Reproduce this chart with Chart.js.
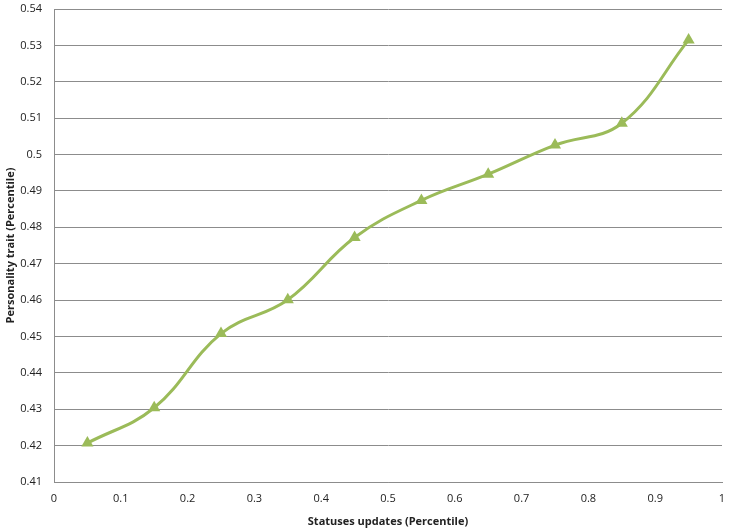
<!DOCTYPE html>
<html>
<head>
<meta charset="utf-8">
<script src="https://cdn.jsdelivr.net/npm/chart.js@4.4.0/dist/chart.umd.min.js"></script>
<style>
  html, body { margin: 0; padding: 0; background: #fff; }
  #wrap { width: 729px; height: 532px; }
</style>
</head>
<body>
<div id="wrap"><canvas id="myChart" width="729" height="532"></canvas></div>
<script>
// data
const xValues = [0.05, 0.15, 0.25, 0.35, 0.45, 0.55, 0.65, 0.75, 0.85, 0.95];
const traitValues = [0.4207, 0.4304, 0.4508, 0.4601, 0.4772, 0.4874, 0.4946, 0.5026, 0.5086, 0.5315];
const xTicks = [0, 0.1, 0.2, 0.3, 0.4, 0.5, 0.6, 0.7, 0.8, 0.9, 1];
const yTicks = [0.41, 0.42, 0.43, 0.44, 0.45, 0.46, 0.47, 0.48, 0.49, 0.5, 0.51, 0.52, 0.53, 0.54];

let points = xValues.map((x, i) => ({ x: x, y: traitValues[i] }));

let ctx = document.getElementById('myChart').getContext('2d');

new Chart(ctx, {
    type: 'line',
    data: {
        datasets: [{
            data: points,
            borderColor: '#9bbb59',
            backgroundColor: '#9bbb59',
            borderWidth: 3,
            tension: 0.4,
            pointStyle: 'triangle',
            pointRadius: 7,
            pointBorderWidth: 0,
            fill: false
        }]
    },
    options: {
        responsive: false,
        animation: false,
        layout: { padding: { top: 9, right: 7, left: 0, bottom: 0 } },
        plugins: { legend: { display: false }, tooltip: { enabled: false } },
        scales: {
            x: {
                type: 'linear',
                min: 0,
                max: 1,
                afterBuildTicks: axis => { axis.ticks = xTicks.map(v => ({ value: v })); },
                afterFit: axis => {
                    axis.height = 50;
                    axis.paddingLeft = 0;
                    axis.paddingRight = 0;
                },
                grid: { display: false, drawTicks: false },
                border: { color: '#8c8c8c', width: 1 },
                ticks: {
                    color: '#222',
                    font: { family: 'Open Sans', size: 11 },
                    padding: 10,
                    maxRotation: 0,
                    callback: v => String(v)
                },
                title: {
                    display: true,
                    text: 'Statuses updates (Percentile)',
                    color: '#222',
                    font: { family: 'Open Sans', size: 11, weight: 'bold' },
                    padding: { top: 2 }
                }
            },
            y: {
                min: 0.41,
                max: 0.54,
                afterBuildTicks: axis => { axis.ticks = yTicks.map(v => ({ value: v })); },
                afterFit: axis => {
                    axis.width = 54;
                    axis.paddingTop = 0;
                    axis.paddingBottom = 0;
                },
                grid: { color: '#8c8c8c', drawTicks: false, lineWidth: 1 },
                border: { color: '#8c8c8c', width: 1 },
                ticks: {
                    color: '#222',
                    font: { family: 'Open Sans', size: 11 },
                    padding: 12,
                    callback: v => String(Math.round(v * 100) / 100)
                },
                title: {
                    display: true,
                    text: 'Personality trait (Percentile)',
                    color: '#222',
                    font: { family: 'Open Sans', size: 11, weight: 'bold' },
                    padding: { bottom: 0 }
                }
            }
        }
    }
});
</script>
</body>
</html>
